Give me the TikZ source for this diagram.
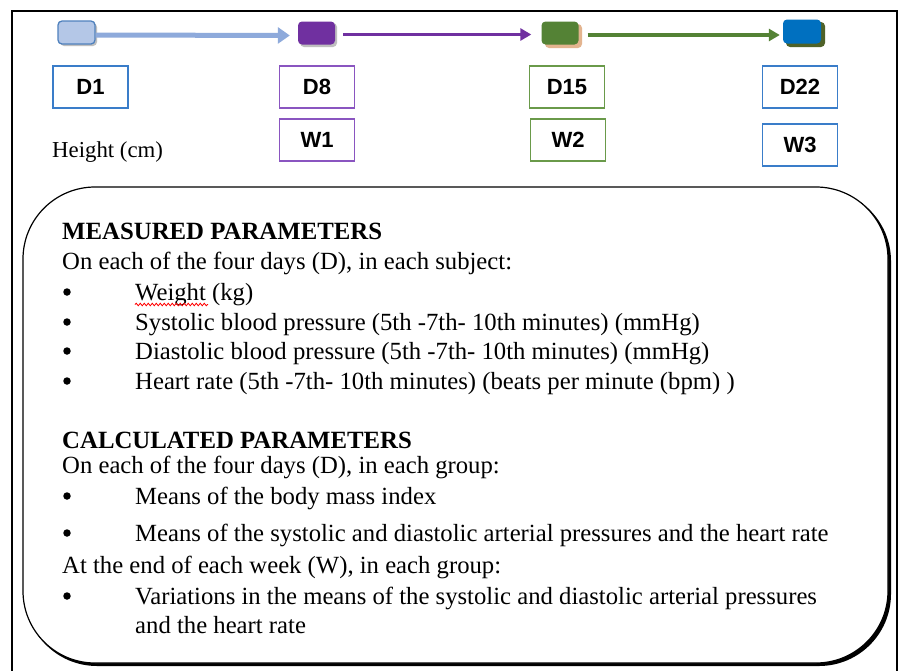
\documentclass[tikz,border=0pt]{standalone}
\usepackage{fontspec}
\setmainfont{Liberation Serif}
\newfontfamily\arialfam{Liberation Sans}
\usetikzlibrary{arrows.meta,decorations.pathmorphing}
\definecolor{lblue}{HTML}{B4C7E7}
\definecolor{lblueedge}{HTML}{4F81BD}
\definecolor{arrblue}{HTML}{8EAADB}
\definecolor{purp}{HTML}{7030A0}
\definecolor{grn}{HTML}{548235}
\definecolor{tanshadow}{HTML}{E3B48F}
\definecolor{blu}{HTML}{0070C0}
\definecolor{olive}{HTML}{4F6228}
\definecolor{tagblue}{HTML}{3A7DC9}
\definecolor{tagpurp}{HTML}{8A55C0}
\definecolor{taggrn}{HTML}{6A9A4A}
\tikzset{
  body/.style={anchor=base west, inner sep=0pt, font=\fontsize{24.7}{28}\selectfont},
  head/.style={anchor=base west, inner sep=0pt, font=\fontsize{24.8}{28}\selectfont\bfseries},
  bul/.style={circle, fill=black, inner sep=0pt, minimum size=7.5pt},
  tag/.style={draw, fill=white, line width=1.3pt, minimum width=75pt, minimum height=42pt, inner sep=0pt, font=\arialfam\bfseries\fontsize{22}{24}\selectfont},
  sq/.style={rounded corners=4pt, minimum width=37pt, minimum height=23pt, inner sep=0pt},
  conn/.style={line width=3.2pt, -{Triangle[length=11pt,width=12pt]}},
}
\begin{document}
\begin{tikzpicture}[x=1pt,y=-1pt]
\useasboundingbox (0,0) rectangle (899,670);
\fill[white] (0,0) rectangle (899,670);
% outer frame
\draw[line width=1.2pt] (12,671) -- (12,11) -- (897,11) -- (897,671);

% timeline squares (shadows first)
\fill[black!25, rounded corners=4pt] (60,23) rectangle (97,46);
\fill[black!25, rounded corners=4pt] (300,23) rectangle (337,47);
\fill[tanshadow, rounded corners=4pt] (545,24) rectangle (582,48);
\fill[olive, rounded corners=4pt] (786,22) rectangle (825,47);
\node[sq, fill=lblue, draw=lblueedge, line width=1.3pt] (s1) at (76.5,32.5) {};
\node[sq, fill=purp] (s2) at (316.5,33) {};
\node[sq, fill=grn] (s3) at (560,33) {};
\node[sq, fill=blu, minimum width=38pt, minimum height=24pt] (s4) at (802,31.5) {};

\draw[arrblue, line width=5pt, -{Triangle[length=12pt,width=16pt]}, shorten >=8pt] ([yshift=-2.5pt]s1.east) -- ([yshift=-2.5pt]s2.west);
\draw[purp, conn, shorten <=8pt, shorten >=10pt] ([yshift=-1.5pt]s2.east) -- ([yshift=-1.5pt]s3.west);
\draw[grn, conn, shorten <=9pt, shorten >=3pt] ([yshift=-2pt]s3.east) -- ([yshift=-3.5pt]s4.west);

% tags
\node[tag, draw=tagblue] (d1) at (90.5,87) {D1};
\node[tag, draw=tagpurp] (d8) at (317,87) {D8};
\node[tag, draw=tagpurp] (w1) at (317,140) {W1};
\node[tag, draw=taggrn] (d15) at (567,87) {D15};
\node[tag, draw=taggrn] (w2) at (568,140) {W2};
\node[tag, draw=tagblue] (d22) at (800,87) {D22};
\node[tag, draw=tagblue] (w3) at (800,145) {W3};
\node[anchor=base west, inner sep=0pt, font=\fontsize{22.8}{26}\selectfont] (ht) at (52,157) {Height (cm)};

% parameters box with shadow
\fill[black, rounded corners=72pt] (25,189) rectangle (891,666);
\filldraw[fill=white, draw=black, line width=1.2pt, rounded corners=72pt] (23,187) rectangle (888,663);

\node[head] (m1) at (62,239) {MEASURED PARAMETERS};
\node[body] (m2) at (62,269) {On each of the four days (D), in each subject:};
\node[body] (m3) at (135,300) {Weight (kg)};
\node[body] (m4) at (135,330) {Systolic blood pressure (5th -7th- 10th minutes) (mmHg)};
\node[body] (m5) at (135,359) {Diastolic blood pressure (5th -7th- 10th minutes) (mmHg)};
\node[body] (m6) at (135,389) {Heart rate (5th -7th- 10th minutes) (beats per minute (bpm) )};
\draw[red, line width=0.8pt, decorate, decoration={snake, amplitude=1.3pt, segment length=4pt}] ([yshift=-4.5pt]m3.base west) -- ++(73,0);

\node[head] (c1) at (62,448) {CALCULATED PARAMETERS};
\node[body] (c2) at (62,473) {On each of the four days (D), in each group:};
\node[body] (c3) at (135,504) {Means of the body mass index};
\node[body] (c4) at (135,541) {Means of the systolic and diastolic arterial pressures and the heart rate};
\node[body] (c5) at (62,573) {At the end of each week (W), in each group:};
\node[body] (c6) at (135,604) {Variations in the means of the systolic and diastolic arterial pressures};
\node[body] (c7) at (135,633) {and the heart rate};

\foreach \n in {m3,m4,m5,m6,c3,c4,c6}{
  \node[bul] (b\n) at ([yshift=8pt]\n.base west -| 67,0) {};
}
\end{tikzpicture}
\end{document}
